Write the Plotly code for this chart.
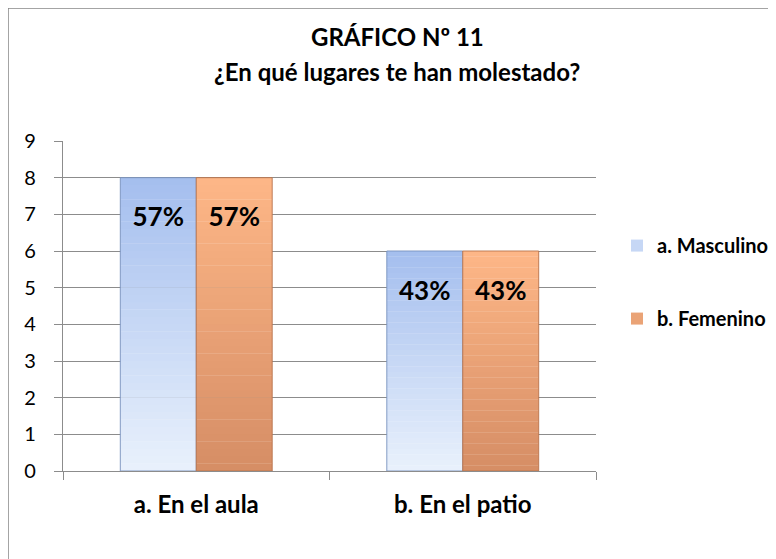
import plotly.graph_objects as go

# ---- data ----
categories = ["a. En el aula", "b. En el patio"]
masculino = [8, 6]
femenino = [8, 6]
masc_labels = ["57%", "43%"]
fem_labels = ["57%", "43%"]
series_names = ["a. Masculino", "b. Femenino"]
title_line1 = "GRÁFICO Nº 11"
title_line2 = "¿En qué lugares te han molestado?"
y_ticks = list(range(0, 10))

FONT = "Lato"
N = 40  # gradient steps

def lerp(c0, c1, t):
    return "rgb(%d,%d,%d)" % tuple(round(a + (b - a) * t) for a, b in zip(c0, c1))

series = [
    dict(name=series_names[0], vals=masculino, labels=masc_labels, grp="M",
         bottom=(233, 241, 252), top=(164, 190, 238), outline="rgba(120,145,190,0.9)"),
    dict(name=series_names[1], vals=femenino, labels=fem_labels, grp="F",
         bottom=(214, 141, 101), top=(253, 183, 135), outline="rgba(185,115,75,0.9)"),
]

fig = go.Figure()
for s in series:
    vals = s["vals"]
    for i in range(N):
        t = (i + 0.5) / N
        ext = 1.03 if i < N - 1 else 1.0
        fig.add_trace(go.Bar(
            x=categories,
            y=[v / N * ext for v in vals],
            base=[v * i / N for v in vals],
            offsetgroup=s["grp"],
            marker=dict(color=lerp(s["bottom"], s["top"], t), line=dict(width=0)),
            name=s["name"],
            legendgroup=s["grp"],
            showlegend=(i == N // 2),
            hoverinfo="skip",
        ))
    # outline
    fig.add_trace(go.Bar(
        x=categories, y=vals, offsetgroup=s["grp"],
        marker=dict(color="rgba(0,0,0,0)", line=dict(color=s["outline"], width=1)),
        showlegend=False, hoverinfo="skip",
    ))
    # labels
    fig.add_trace(go.Bar(
        x=categories, y=[2.1 for v in vals], base=[v - 2.1 for v in vals],
        offsetgroup=s["grp"],
        marker=dict(color="rgba(0,0,0,0)", line=dict(width=0)),
        text=s["labels"], textposition="inside", insidetextanchor="middle",
        constraintext="none",
        textfont=dict(family=FONT, size=26, color="black", weight="bold"),
        showlegend=False, hoverinfo="skip",
    ))

OFF = 8  # page body margin
W, H = 776 - OFF, 559 - OFF
L = 63 - OFF
T = 141 - OFF
R = W - (596 - OFF)
B = H - (470.7 - OFF)
pw, ph = W - L - R, H - T - B

def px_x(p):
    return (p - OFF - L) / pw

def px_y(p):
    return (H - B - (p - OFF)) / ph

# chart-area border: only top and left edges are inside the picture
border = dict(color="#868686", width=1.5)
fig.add_shape(type="line", xref="paper", yref="paper",
              x0=px_x(8), x1=px_x(776), y0=px_y(8), y1=px_y(8), line=border)
fig.add_shape(type="line", xref="paper", yref="paper",
              x0=px_x(8), x1=px_x(8), y0=px_y(8), y1=px_y(559), line=border)

fig.add_annotation(text="<b>%s</b>" % title_line1, xref="paper", yref="paper",
                   x=px_x(397), y=px_y(37), showarrow=False, yanchor="middle",
                   font=dict(family=FONT, size=24, color="black"))
fig.add_annotation(text="<b>%s</b>" % title_line2, xref="paper", yref="paper",
                   x=px_x(397), y=px_y(72), showarrow=False, yanchor="middle",
                   font=dict(family=FONT, size=24, color="black"))

fig.update_layout(
    width=W, height=H,
    margin=dict(l=L, r=R, t=T, b=B, autoexpand=False),
    paper_bgcolor="white", plot_bgcolor="white",
    barmode="group", bargap=0.43, bargroupgap=0,
    font=dict(family=FONT, color="black"),
    legend=dict(x=px_x(617), xanchor="left", y=px_y(226), yanchor="top",
                font=dict(family=FONT, size=20, color="black", weight="bold"),
                tracegroupgap=44, bgcolor="rgba(0,0,0,0)"),
)
fig.update_yaxes(range=[0, 9], tickvals=y_ticks, showgrid=True, gridcolor="#8c8c8c",
                 gridwidth=1.3, showline=True, linecolor="#8c8c8c", linewidth=1.3,
                 ticks="outside", ticklen=8, tickcolor="#8c8c8c", tickwidth=1.3,
                 tickfont=dict(family=FONT, size=20, color="black"),
                 ticklabelstandoff=14, zeroline=False)
fig.update_xaxes(showline=True, linecolor="#8c8c8c", linewidth=1.3,
                 ticks="outside", tickson="boundaries", ticklen=8,
                 tickcolor="#8c8c8c", tickwidth=1.3,
                 tickfont=dict(family=FONT, size=24, color="black", weight="bold"),
                 ticklabelstandoff=12)

fig.write_html("out.html")
